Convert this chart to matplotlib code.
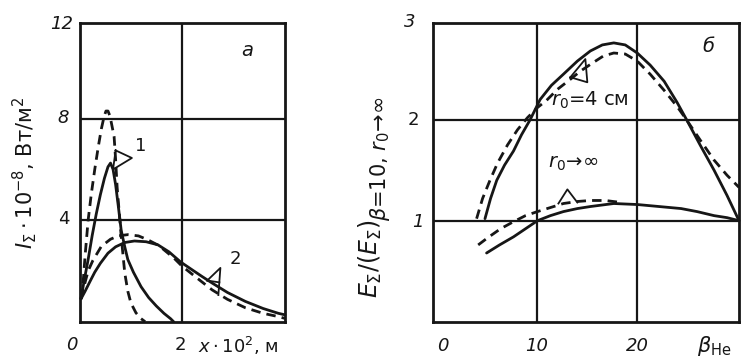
import matplotlib
matplotlib.use("Agg")
import matplotlib.pyplot as plt

# ---------------- data: panel a (x in 10^-2 m, I in 10^8 W/m^2) ----------------
a1_solid_x = [0.02, 0.08, 0.16, 0.24, 0.32, 0.40, 0.48, 0.55, 0.60, 0.65, 0.70, 0.75, 0.81, 0.88,
              0.94, 1.05, 1.20, 1.35, 1.50, 1.65, 1.78, 1.84]
a1_solid_y = [0.9, 1.6, 2.45, 3.4, 4.25, 5.0, 5.65, 6.1, 6.25, 6.0, 5.4, 4.6, 3.6, 2.95,
              2.45, 1.95, 1.38, 0.95, 0.62, 0.33, 0.12, 0.0]

a1_dash_x = [0.02, 0.065, 0.10, 0.16, 0.22, 0.29, 0.36, 0.42, 0.47, 0.51, 0.55, 0.59, 0.63, 0.67,
             0.70, 0.73, 0.81, 0.88, 0.94, 1.00, 1.10, 1.20, 1.28]
a1_dash_y = [0.9, 1.65, 2.6, 4.0, 5.0, 6.0, 6.9, 7.6, 8.05, 8.3, 8.3, 8.1, 7.7, 7.3,
             6.4, 5.3, 3.36, 1.92, 1.2, 0.74, 0.35, 0.12, 0.0]

a2_solid_x = [0.02, 0.10, 0.20, 0.29, 0.40, 0.55, 0.70, 0.88, 1.07, 1.30, 1.53, 1.75, 1.98, 2.20,
              2.40, 2.60, 2.90, 3.25, 3.60, 3.90, 4.03]
a2_solid_y = [0.9, 1.2, 1.6, 1.95, 2.3, 2.7, 2.95, 3.12, 3.18, 3.15, 3.03, 2.75, 2.35, 2.05,
              1.78, 1.52, 1.15, 0.8, 0.52, 0.33, 0.27]

a2_dash_x = [0.02, 0.08, 0.16, 0.25, 0.42, 0.60, 0.75, 0.94, 1.15, 1.33, 1.55, 1.85, 2.00, 2.30,
             2.60, 2.90, 3.25, 3.60, 3.90, 4.03]
a2_dash_y = [0.9, 1.4, 2.0, 2.4, 2.97, 3.25, 3.38, 3.43, 3.38, 3.23, 3.0, 2.5, 2.2, 1.72,
             1.25, 0.88, 0.55, 0.33, 0.2, 0.13]

# ---------------- data: panel б (beta_He, relative E) ----------------
b4_solid_x = [4.74, 5.3, 5.92, 6.7, 7.6, 8.4, 9.27, 10.27, 11.4, 12.6, 14.0, 15.3, 16.5, 17.65,
              18.8, 20.0, 21.3, 22.7, 24.0, 25.0, 26.3, 27.7, 29.0, 30.2]
b4_solid_y = [1.02, 1.22, 1.40, 1.55, 1.69, 1.85, 2.0, 2.2, 2.34, 2.45, 2.58, 2.68, 2.74, 2.76,
              2.74, 2.66, 2.54, 2.38, 2.17, 1.99, 1.75, 1.50, 1.25, 1.0]

b4_dash_x = [3.9, 4.5, 5.24, 6.0, 7.0, 8.0, 9.0, 10.0, 10.9, 12.0, 13.3, 14.3, 15.5, 16.6, 17.65,
             18.8, 20.0, 21.3, 22.7, 24.0, 25.0, 26.3, 27.7, 29.0, 30.2]
b4_dash_y = [1.02, 1.22, 1.40, 1.57, 1.75, 1.9, 2.02, 2.12, 2.19, 2.3, 2.4, 2.48, 2.56, 2.63, 2.66,
             2.65, 2.58, 2.45, 2.29, 2.13, 1.99, 1.8, 1.6, 1.45, 1.33]

binf_solid_x = [4.9, 6.2, 7.6, 8.8, 10.0, 11.3, 12.6, 14.0, 15.3, 17.65, 20.0, 22.2, 24.4, 26.0,
                27.7, 29.0, 30.2]
binf_solid_y = [0.68, 0.76, 0.84, 0.92, 1.0, 1.05, 1.09, 1.12, 1.14, 1.17, 1.16, 1.14, 1.12, 1.09,
                1.05, 1.03, 1.0]

binf_dash_x = [4.06, 5.0, 6.3, 7.6, 8.8, 10.0, 11.3, 12.6, 14.0, 15.3, 16.8, 18.4]
binf_dash_y = [0.76, 0.83, 0.92, 0.99, 1.05, 1.09, 1.13, 1.17, 1.19, 1.2, 1.2, 1.18]

# tick labels
a_xticks = [0, 2]
a_yticks = [4, 8, 12]
b_xticks = [0, 10, 20]
b_yticks = [1, 2, 3]

# ---------------- figure ----------------
W, H = 742, 363
fig = plt.figure(figsize=(W / 100, H / 100), dpi=100)
fig.patch.set_facecolor("white")

def fx(p):
    return p / W

def fy(p):
    return 1 - p / H

INK = "#161616"
LW = 2.0
DASH = (3.4, 2.2)
FS = 13

axL = fig.add_axes([fx(80), fy(321.7), fx(205), 299 / H])
axR = fig.add_axes([fx(432.7), fy(321.7), fx(306.3), 299 / H])

for ax in (axL, axR):
    for s in ax.spines.values():
        s.set_linewidth(2.0)
        s.set_color(INK)
    ax.tick_params(length=0, labelbottom=False, labelleft=False)
    ax.grid(True, color=INK, lw=1.6)
    ax.set_axisbelow(True)

axL.set_xlim(0, 4.03)
axL.set_ylim(0, 11.78)
axL.set_xticks([2])
axL.set_yticks([4, 8])

axR.set_xlim(-0.5, 30.2)
axR.set_ylim(0, 2.96)
axR.set_xticks([10, 20])
axR.set_yticks([1, 2])

kw_s = dict(color=INK, lw=LW, solid_capstyle="round", solid_joinstyle="round", clip_on=False)
kw_d = dict(color=INK, lw=LW, linestyle=(0, DASH), dash_capstyle="butt", clip_on=False)

axL.plot(a1_solid_x, a1_solid_y, **kw_s)
axL.plot(a1_dash_x, a1_dash_y, **kw_d)
axL.plot(a2_solid_x, a2_solid_y, **kw_s)
axL.plot(a2_dash_x, a2_dash_y, **kw_d)

axR.plot(b4_solid_x, b4_solid_y, **kw_s)
axR.plot(b4_dash_x, b4_dash_y, **kw_d)
axR.plot(binf_solid_x, binf_solid_y, **kw_s)
axR.plot(binf_dash_x, binf_dash_y, **kw_d)

# leader marks
lk = dict(color=INK, lw=1.3)
axL.plot([0.70, 1.02, 0.65, 0.70], [6.75, 6.45, 6.0, 6.75], **lk)
axL.text(1.08, 6.55, "1", fontsize=FS, color=INK, ha="left", va="bottom")
axL.plot([2.50, 2.76, 2.72], [1.62, 2.12, 1.05], **lk)
axL.plot([2.50, 2.74], [1.62, 1.55], **lk)
axL.text(2.95, 2.1, "2", fontsize=FS, color=INK, ha="left", va="bottom")

axR.plot([13.3, 14.8, 15.0, 13.3], [2.42, 2.60, 2.37, 2.42], **lk)
axR.text(11.4, 2.19, r"$r_0$=4 см", fontsize=FS + 1, color=INK, ha="left", va="center")
axR.text(11.1, 1.57, r"$r_0\!\rightarrow\!\infty$", fontsize=FS + 1, color=INK, ha="left", va="center")
axR.plot([12.1, 13.0, 14.0], [1.17, 1.31, 1.18], **lk)

# panel letters
fig.text(fx(247), fy(50), "а", fontsize=FS + 1, style="italic", color=INK, ha="center", va="center")
fig.text(fx(708), fy(47), "б", fontsize=FS + 1, style="italic", color=INK, ha="center", va="center")

# tick labels (manual placement as in the scan)
a_ytick_pos = [(64, 219), (63, 118), (62, 24)]
a_ytick_sty = ["normal", "italic", "italic"]
for v, (px, py), st in zip(a_yticks, a_ytick_pos, a_ytick_sty):
    fig.text(fx(px), fy(py), str(v), fontsize=FS, style=st, color=INK, ha="center", va="center")
a_xtick_pos = [(72, 345), (180, 345)]
a_xtick_sty = ["italic", "normal"]
for v, (px, py), st in zip(a_xticks, a_xtick_pos, a_xtick_sty):
    fig.text(fx(px), fy(py), str(v), fontsize=FS, style=st, color=INK, ha="center", va="center")
fig.text(fx(198), fy(346), r"$x\cdot10^2$, м", fontsize=FS, color=INK, ha="left", va="center")

b_ytick_pos = [(418, 222), (413, 120), (410, 22)]
b_ytick_sty = ["italic", "normal", "italic"]
for v, (px, py), st in zip(b_yticks, b_ytick_pos, b_ytick_sty):
    fig.text(fx(px), fy(py), str(v), fontsize=FS, style=st, color=INK, ha="center", va="center")
b_xtick_pos = [(443, 346), (537, 346), (637, 346)]
for v, (px, py) in zip(b_xticks, b_xtick_pos):
    fig.text(fx(px), fy(py), str(v), fontsize=FS, style="italic", color=INK, ha="center", va="center")
fig.text(fx(697), fy(346), r"$\beta_{\mathrm{He}}$", fontsize=FS + 2, color=INK, ha="left", va="center")

# axis titles
fig.text(fx(25), fy(173), r"$I_\Sigma\cdot10^{-8}$, Вт/м$^2$", fontsize=FS + 2, color=INK,
         rotation=90, ha="center", va="center")
t_main = fig.text(fx(370), fy(298), r"$E_\Sigma/(E_\Sigma)$", fontsize=FS + 4, color=INK,
                  rotation=90, ha="center", va="bottom")
fig.canvas.draw()
bb = t_main.get_window_extent()
top_px = H - bb.y1  # pixel row (from top) where main part ends
fig.text(fx(380), fy(top_px + 1), r"$\beta$=10, $r_0\!\rightarrow\!\infty$", fontsize=FS + 2, color=INK,
         rotation=90, ha="center", va="bottom")

fig.savefig("out.png", dpi=100, facecolor="white")
